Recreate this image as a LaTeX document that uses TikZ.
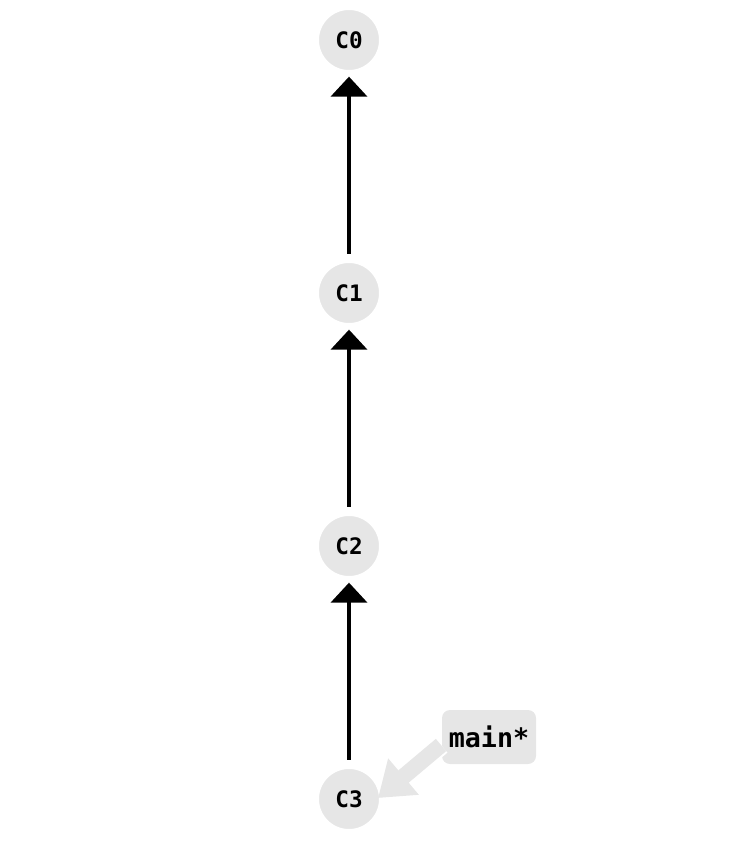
\documentclass[tikz,border=0pt]{standalone}
\usepackage{fontspec}
\setmonofont{DejaVu Sans Mono}
\usetikzlibrary{arrows.meta}
\definecolor{nodegray}{HTML}{E6E6E6}
\begin{document}
\begin{tikzpicture}[x=0.75pt,y=-0.75pt,
  commit/.style={circle,fill=nodegray,draw=white,line width=3pt,minimum size=64*0.75pt,inner sep=0pt,font=\ttfamily\bfseries\fontsize{17}{17}\selectfont},
  parent/.style={line width=3pt,-{Triangle[width=27pt,length=15pt]},shorten >=2pt,shorten <=4pt},
  branch/.style={rounded corners=6pt,fill=nodegray,minimum width=94*0.75pt,minimum height=54*0.75pt,inner sep=0pt,font=\ttfamily\bfseries\fontsize{20}{20}\selectfont},
  ptr/.style={line width=12pt,draw=nodegray,-{Triangle[width=34pt,length=25pt]}}
]
\useasboundingbox (0,0) rectangle (738,842);
\node[commit] (c0) at (349,40) {C0};
\node[commit] (c1) at (349,293) {C1};
\node[commit] (c2) at (349,546) {C2};
\node[commit] (c3) at (349,799) {C3};
\draw[parent] (c1) -- (c0);
\draw[parent] (c2) -- (c1);
\draw[parent] (c3) -- (c2);
\node[branch] (m) at (489,737) {main*};
\coordinate (tip) at (378,798);
\coordinate (tail) at (441,745);
\draw[draw=white,line width=15pt,shorten >=20pt] (tail) -- (tip);
\draw[ptr] (tail) -- (tip);
\end{tikzpicture}
\end{document}
